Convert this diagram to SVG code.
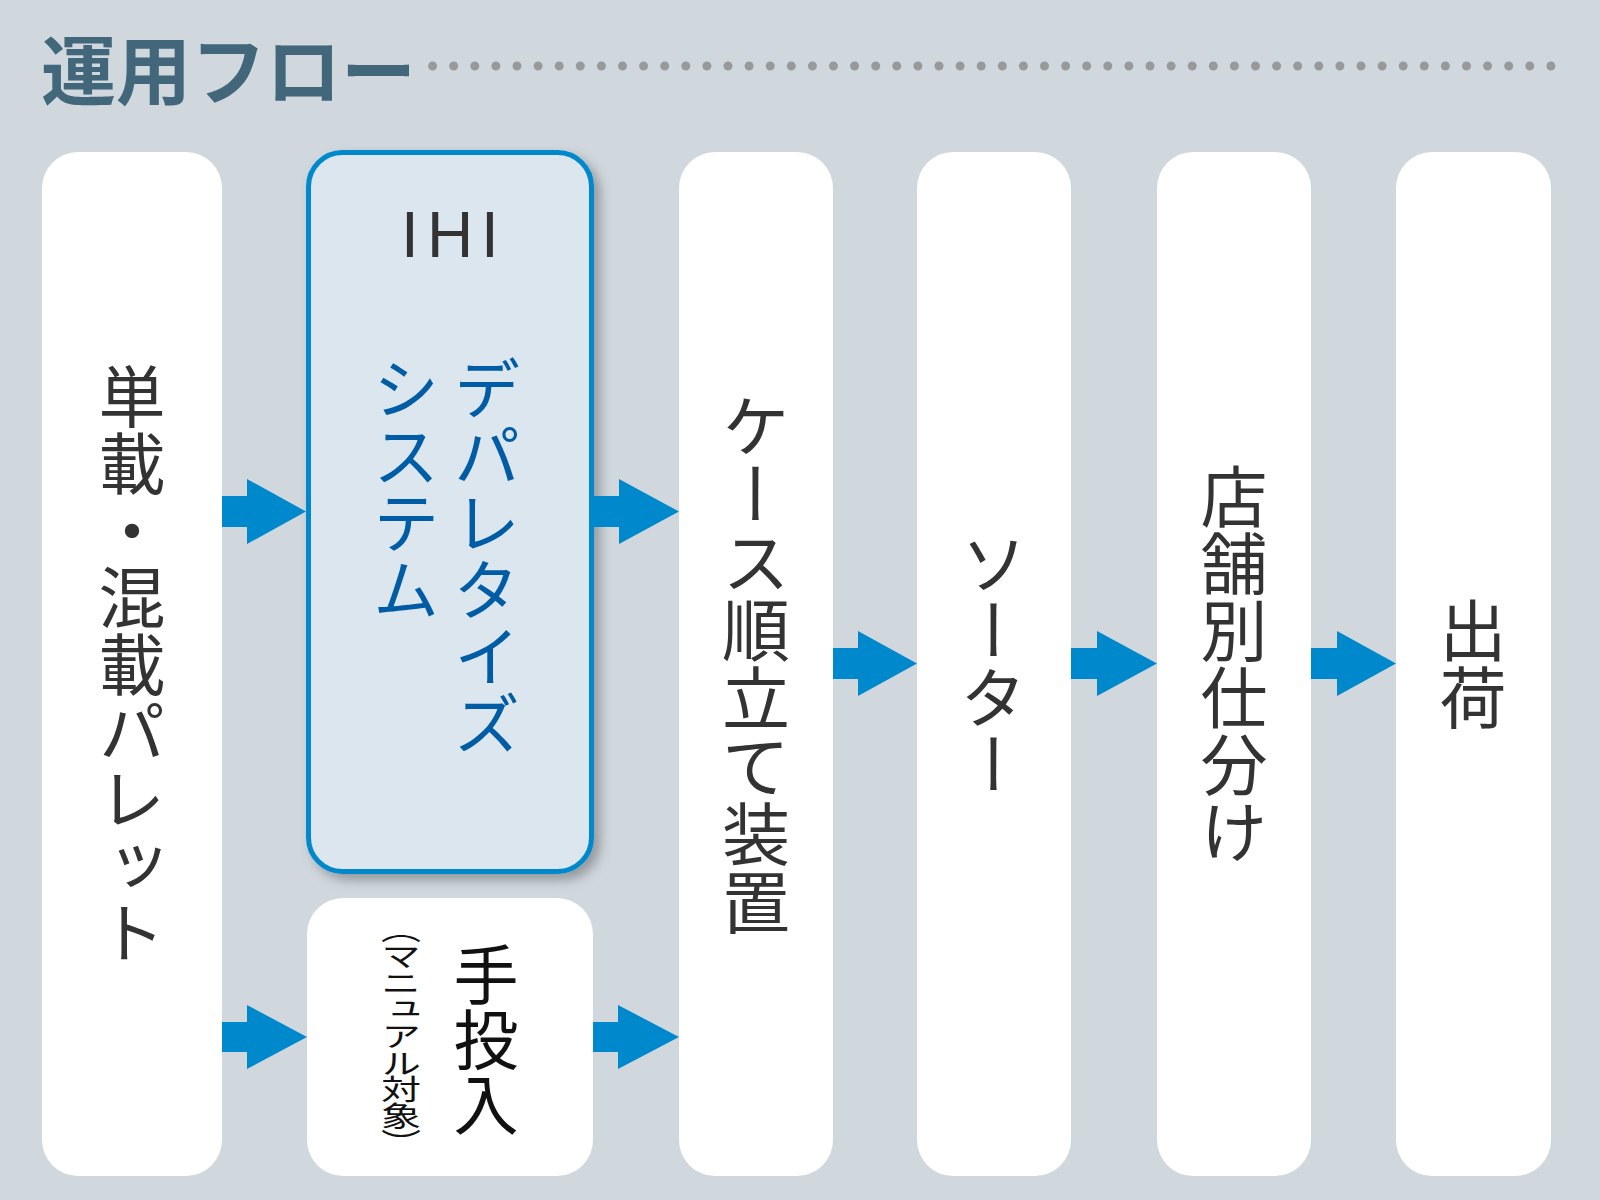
<svg xmlns="http://www.w3.org/2000/svg" width="1600" height="1200" viewBox="0 0 1600 1200">
<style>
.jp{font-family:"Noto Sans CJK JP","Noto Sans CJK SC",sans-serif;}
.vt{writing-mode:vertical-rl;text-anchor:middle;}
.box{fill:#ffffff;}
.lbl{font-size:67px;fill:#333333;}
.arrow{fill:#0088cc;}
</style>
<defs>
<filter id="sh" x="-20%" y="-20%" width="140%" height="140%">
<feDropShadow dx="6" dy="6" stdDeviation="6" flood-color="#000000" flood-opacity="0.3"/>
</filter>
</defs>
<rect x="0" y="0" width="1600" height="1200" fill="#d0d8de"/>
<g id="title">
<text x="41" y="99" class="jp" font-size="75" font-weight="bold" fill="#42677b">運用フロー</text>
<line x1="432.6" y1="66" x2="1552" y2="66" stroke="#999999" stroke-width="9" stroke-linecap="round" stroke-dasharray="0 21.1"/>
</g>
<g id="node-pallet">
<rect class="box" x="42" y="152" width="180" height="1024" rx="36"/>
<text class="jp vt lbl" x="132" y="665">単載・混載パレット</text>
</g>
<g id="node-ihi">
<rect x="308.5" y="152.5" width="283" height="719" rx="34" fill="#dbe6ee" stroke="#0088cc" stroke-width="5" filter="url(#sh)"/>
<text x="454" y="257" font-family="'Liberation Sans','Noto Sans',sans-serif" font-size="64" letter-spacing="8" fill="#333333" text-anchor="middle">IHI</text>
<text class="jp" x="487" y="355" font-size="67" fill="#005da5" style="writing-mode:vertical-rl">デパレタイズ</text>
<text class="jp" x="406" y="355" font-size="67" fill="#005da5" style="writing-mode:vertical-rl">システム</text>
</g>
<g id="node-manual">
<rect class="box" x="307" y="898" width="286" height="278" rx="36"/>
<text class="jp vt" x="486" y="1039" font-size="65" fill="#111111">手投入</text>
<text class="jp vt" transform="translate(401,1035) scale(1,0.72)" x="0" y="0" font-size="40" letter-spacing="-3" fill="#111111">（マニュアル対象）</text>
</g>
<g id="node-case">
<rect class="box" x="679" y="152" width="154" height="1024" rx="36"/>
<text class="jp vt" x="756" y="664" font-size="68" fill="#333333">ケース順立て装置</text>
</g>
<g id="node-sorter">
<rect class="box" x="917" y="152" width="154" height="1024" rx="36"/>
<text class="jp vt lbl" x="994" y="664">ソーター</text>
</g>
<g id="node-store">
<rect class="box" x="1157" y="152" width="154" height="1024" rx="36"/>
<text class="jp vt lbl" x="1234" y="664">店舗別仕分け</text>
</g>
<g id="node-ship">
<rect class="box" x="1396" y="152" width="155" height="1024" rx="36"/>
<text class="jp vt lbl" x="1473" y="664">出荷</text>
</g>
<g id="connectors">
<path class="arrow" d="M222,496 H247 V479 L306,511.5 L247,544 V527 H222 Z"/>
<path class="arrow" d="M594,496 H619 V479 L679,511.5 L619,544 V527 H594 Z"/>
<path class="arrow" d="M222,1022 H247 V1005 L307,1037 L247,1069 V1052 H222 Z"/>
<path class="arrow" d="M593,1022 H618 V1005 L679,1037 L618,1069 V1052 H593 Z"/>
<path class="arrow" d="M833,648 H858 V631 L917,663.5 L858,696 V679 H833 Z"/>
<path class="arrow" d="M1071,648 H1097 V631 L1157,663.5 L1097,696 V679 H1071 Z"/>
<path class="arrow" d="M1311,648 H1337 V631 L1396,663.5 L1337,696 V679 H1311 Z"/>
</g>
</svg>
